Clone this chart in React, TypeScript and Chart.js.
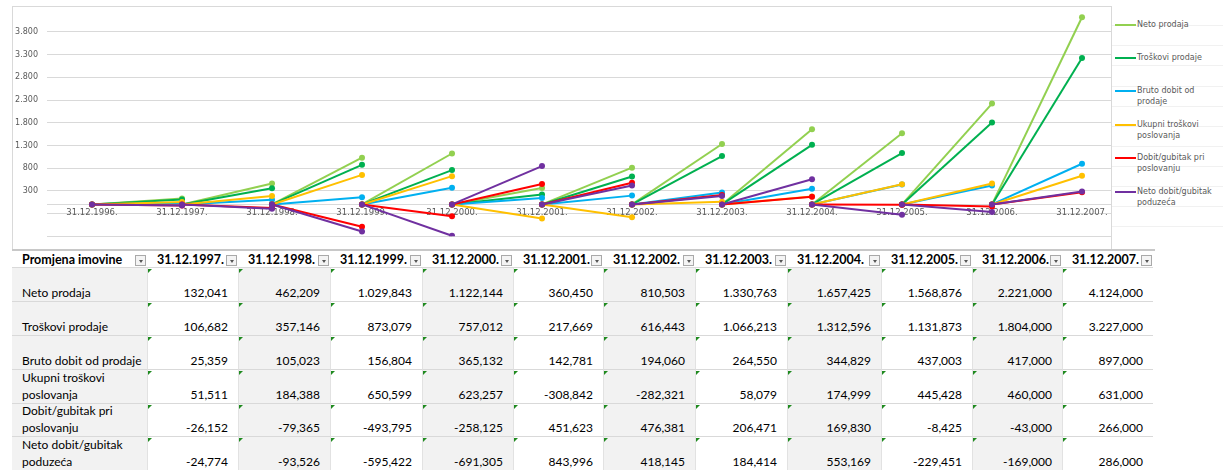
import React, { useEffect, useRef } from 'react';
import { Chart, registerables } from 'chart.js';

Chart.register(...registerables);

// ---------- data ----------
const categories = [
  '31.12.1996.', '31.12.1997.', '31.12.1998.', '31.12.1999.', '31.12.2000.', '31.12.2001.',
  '31.12.2002.', '31.12.2003.', '31.12.2004.', '31.12.2005.', '31.12.2006.', '31.12.2007.',
];
const tableYears = categories.slice(1);
const tableTitle = 'Promjena imovine';

const netoProdaja = [132.041, 462.209, 1029.843, 1122.144, 360.45, 810.503, 1330.763, 1657.425, 1568.876, 2221.0, 4124.0];
const troskoviProdaje = [106.682, 357.146, 873.079, 757.012, 217.669, 616.443, 1066.213, 1312.596, 1131.873, 1804.0, 3227.0];
const brutoDobit = [25.359, 105.023, 156.804, 365.132, 142.781, 194.06, 264.55, 344.829, 437.003, 417.0, 897.0];
const ukupniTroskovi = [51.511, 184.388, 650.599, 623.257, -308.842, -282.321, 58.079, 174.999, 445.428, 460.0, 631.0];
const dobitPoslovanje = [-26.152, -79.365, -493.795, -258.125, 451.623, 476.381, 206.471, 169.83, -8.425, -43.0, 266.0];
const netoDobit = [-24.774, -93.526, -595.422, -691.305, 843.996, 418.145, 184.414, 553.169, -229.451, -169.0, 286.0];

const seriesNames = [
  'Neto prodaja',
  'Troškovi prodaje',
  'Bruto dobit od prodaje',
  'Ukupni troškovi poslovanja',
  'Dobit/gubitak pri poslovanju',
  'Neto dobit/gubitak poduzeća',
];
const seriesValues = [netoProdaja, troskoviProdaje, brutoDobit, ukupniTroskovi, dobitPoslovanje, netoDobit];
const seriesColors = ['#92D050', '#00B050', '#00B0F0', '#FFC000', '#FF0000', '#7030A0'];

const yTickValues = [-700, -200, 300, 800, 1300, 1800, 2300, 2800, 3300, 3800];
const yMin = -700;
const yMax = 4200;

// ---------- layout constants ----------
const colEdges = [12, 147, 238, 330, 422, 513, 603, 695, 787, 881, 972, 1062, 1153];
const rowEdges = [251, 268, 302, 336, 370, 404, 437, 471];

const fmtThousands = (v: number) => {
  const s = Math.round(Math.abs(v)).toString().replace(/\B(?=(\d{3})+(?!\d))/g, '.');
  return (v < 0 ? '-' : '') + s;
};
const fmtValue = (v: number) => {
  const fixed = Math.abs(v).toFixed(3);
  const [ip, dp] = fixed.split('.');
  const ipf = ip.replace(/\B(?=(\d{3})+(?!\d))/g, '.');
  return (v < 0 ? '-' : '') + ipf + ',' + dp;
};

// each yearly change is drawn as a segment starting from 0 at the previous date
function buildPoints(values: number[]) {
  const pts: { x: string; y: number }[] = [{ x: categories[0], y: 0 }];
  values.forEach((v, i) => {
    pts.push({ x: categories[i + 1], y: v });
    if (i < values.length - 1) pts.push({ x: categories[i + 1], y: 0 });
  });
  return pts;
}

const chartFont = 'DejaVu Sans';
const tableFont = 'Lato';

function ChartBox() {
  const ref = useRef<HTMLCanvasElement | null>(null);
  useEffect(() => {
    if (!ref.current) return;
    const n = seriesValues.length;
    const chart = new Chart(ref.current, {
      type: 'line',
      data: {
        labels: categories,
        datasets: seriesValues.map((vals, i) => {
          const color = seriesColors[i];
          return {
            label: seriesNames[i],
            data: buildPoints(vals),
            borderColor: color,
            backgroundColor: color,
            pointBackgroundColor: color,
            pointBorderColor: color,
            pointRadius: 3,
            pointBorderWidth: 0,
            borderWidth: 2,
            tension: 0,
            fill: false,
            order: n - i,
            segment: {
              borderColor: (ctx: any) =>
                ctx.p0.parsed.x === ctx.p1.parsed.x ? 'rgba(0,0,0,0)' : color,
            },
          } as any;
        }),
      },
      options: {
        responsive: false,
        animation: false,
        events: [],
        layout: { padding: { left: 0, right: 13, top: 13.5, bottom: 13.7 } },
        plugins: { legend: { display: false }, tooltip: { enabled: false } },
        scales: {
          x: {
            type: 'category',
            offset: true,
            position: { y: 0 } as any,
            grid: { display: true, color: 'rgba(0,0,0,0)', drawTicks: false },
            border: { display: true, color: '#d9d9d9', width: 1 },
            ticks: {
              color: '#595959',
              font: { family: chartFont, size: 8.5 },
              padding: 3,
              maxRotation: 0,
              autoSkip: false,
            },
            afterFit: (a: any) => {
              a.height = 0;
            },
          },
          y: {
            type: 'linear',
            min: yMin,
            max: yMax,
            afterBuildTicks: (a: any) => {
              a.ticks = yTickValues.map((v) => ({ value: v }));
            },
            grid: { color: '#d9d9d9', drawTicks: false },
            border: { display: false },
            ticks: {
              color: '#595959',
              font: { family: chartFont, size: 8 },
              padding: 9,
              callback: (v: any) => (Number(v) < 0 ? '' : fmtThousands(Number(v))),
            },
            afterFit: (a: any) => {
              a.width = 47;
            },
          },
        },
      } as any,
    });
    return () => chart.destroy();
  }, []);
  return <canvas ref={ref} width={1140} height={250} style={{ display: 'block' }} />;
}

function FilterButton({ right }: { right: number }) {
  return (
    <div
      style={{
        position: 'absolute',
        left: right - 12,
        top: 255,
        width: 11,
        height: 11,
        boxSizing: 'border-box',
        border: '1px solid #a9a9a9',
        background: '#f4f4f4',
      }}
    >
      <div
        style={{
          position: 'absolute',
          left: 2.5,
          top: 4,
          width: 0,
          height: 0,
          borderLeft: '2.5px solid transparent',
          borderRight: '2.5px solid transparent',
          borderTop: '3px solid #555',
        }}
      />
    </div>
  );
}

export default function App() {
  const cells: React.ReactNode[] = [];
  const nCols = colEdges.length - 1;
  // header row
  for (let c = 0; c < nCols; c++) {
    const left = colEdges[c];
    const width = colEdges[c + 1] - colEdges[c];
    const text = c === 0 ? tableTitle : tableYears[c - 1];
    cells.push(
      <div
        key={`h${c}`}
        style={{
          position: 'absolute',
          left,
          top: rowEdges[0],
          width,
          height: rowEdges[1] - rowEdges[0],
          boxSizing: 'border-box',
          paddingLeft: 10,
          display: 'flex',
          alignItems: 'center',
          overflow: 'hidden',
          whiteSpace: 'nowrap',
          fontFamily: tableFont,
          fontWeight: 700,
          fontSize: 12.5,
          lineHeight: '17px',
          color: '#000',
          background: '#fff',
        }}
      >
        {text}
      </div>
    );
    cells.push(<FilterButton key={`fb${c}`} right={colEdges[c + 1]} />);
  }
  // data rows
  seriesNames.forEach((name, r) => {
    const top = rowEdges[r + 1];
    const height = rowEdges[r + 2] - top;
    for (let c = 0; c < nCols; c++) {
      const left = colEdges[c];
      const width = colEdges[c + 1] - colEdges[c];
      const gray = c === 0 || c % 2 === 0;
      cells.push(
        <div
          key={`c${r}-${c}`}
          style={{
            position: 'absolute',
            left,
            top,
            width,
            height,
            boxSizing: 'border-box',
            borderBottom: '1px solid #d9d9d9',
            borderLeft: c === 0 ? 'none' : '1px solid #e2e2e2',
            background: gray ? '#f2f2f2' : '#ffffff',
            display: 'flex',
            alignItems: 'flex-end',
            justifyContent: c === 0 ? 'flex-start' : 'flex-end',
            paddingLeft: c === 0 ? 10 : 0,
            paddingRight: c === 0 ? 3 : 10,
            fontFamily: tableFont,
            fontSize: 12,
            lineHeight: '17px',
            color: '#000',
          }}
        >
          <span>{c === 0 ? name : fmtValue(seriesValues[r][c - 1])}</span>
        </div>
      );
      if (c > 0) {
        cells.push(
          <div
            key={`t${r}-${c}`}
            style={{
              position: 'absolute',
              left: left + 1,
              top: top + 1,
              width: 0,
              height: 0,
              borderTop: '4px solid #1f8a1f',
              borderRight: '4px solid transparent',
            }}
          />
        );
      }
    }
  });

  const legendLines = [25, 45, 65, 86, 106, 126, 146, 166, 186, 206, 226];

  return (
    <div
      style={{
        position: 'absolute',
        left: 0,
        top: 0,
        width: 1223,
        height: 470,
        overflow: 'hidden',
        background: '#fff',
      }}
    >
      {legendLines.map((y) => (
        <div
          key={`gl${y}`}
          style={{ position: 'absolute', left: 1112, top: y, width: 111, height: 1, background: '#f1f1f1' }}
        />
      ))}
      <div style={{ position: 'absolute', left: 0, top: 0, width: 1111, height: 250, overflow: 'hidden' }}>
        <ChartBox />
      </div>
      <div
        style={{
          position: 'absolute',
          left: 12,
          top: 6,
          width: 1100,
          height: 244,
          boxSizing: 'border-box',
          border: '1px solid #d9d9d9',
          pointerEvents: 'none',
        }}
      />
      {/* legend */}
      {seriesNames.map((name, i) => (
        <div
          key={`lg${i}`}
          style={{
            position: 'absolute',
            left: 1115,
            top: 18.5 + i * 33.45,
            display: 'flex',
            alignItems: 'flex-start',
          }}
        >
          <div style={{ width: 21, height: 2, marginTop: 5, background: seriesColors[i], flex: 'none' }} />
          <div
            style={{
              width: 86,
              marginLeft: 1,
              fontFamily: chartFont,
              fontSize: 8,
              lineHeight: '11px',
              color: '#595959',
            }}
          >
            {name}
          </div>
        </div>
      ))}
      {/* table top border */}
      <div style={{ position: 'absolute', left: 12, top: 249, width: 1143, height: 2, background: '#c8c8c8' }} />
      {cells}
      <div
        style={{ position: 'absolute', left: 12, top: rowEdges[1] - 1, width: 1141, height: 1, background: '#d9d9d9' }}
      />
    </div>
  );
}
